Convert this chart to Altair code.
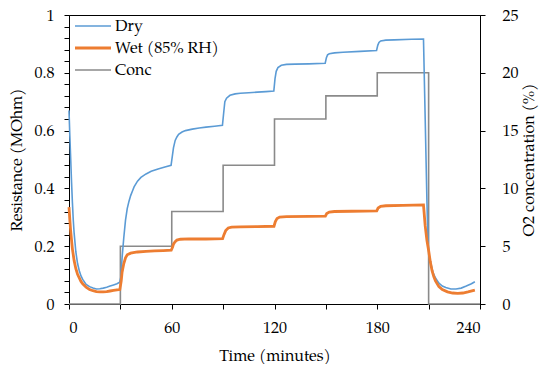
import altair as alt
import pandas as pd

# ---- data ----
dry_t = [0, 0.5, 1, 1.5, 2, 2.5, 3, 4, 5, 6, 7, 8, 10, 12, 14, 16, 18, 20, 22, 24, 26, 28, 29.6,
         30.3, 31, 32, 33, 34, 35, 36, 37, 38, 40, 42, 45, 48, 52, 56, 59.6,
         60.3, 61, 62, 63, 64, 66, 68, 72, 76, 80, 85, 89.6,
         90.3, 91, 92, 94, 97, 100, 105, 110, 115, 119.6,
         120.3, 121, 122, 124, 127, 132, 140, 149.6,
         150.3, 151, 152, 155, 160, 170, 179.6,
         180.3, 181, 182, 185, 190, 200, 207,
         208, 209, 209.7, 210.5, 211.5, 212.5, 214, 216, 218, 220, 223, 226, 229, 232, 235, 237]
dry_v = [0.67, 0.58, 0.50, 0.42, 0.35, 0.29, 0.245, 0.18, 0.14, 0.115, 0.097, 0.085, 0.068, 0.06, 0.055, 0.052, 0.053, 0.055, 0.058, 0.062, 0.066, 0.07, 0.075,
         0.094, 0.16, 0.23, 0.29, 0.33, 0.355, 0.375, 0.39, 0.405, 0.425, 0.438, 0.45, 0.459, 0.467, 0.474, 0.48,
         0.51, 0.54, 0.566, 0.578, 0.587, 0.595, 0.6, 0.605, 0.609, 0.612, 0.615, 0.618,
         0.66, 0.70, 0.712, 0.722, 0.727, 0.729, 0.731, 0.733, 0.735, 0.737,
         0.78, 0.805, 0.818, 0.826, 0.829, 0.83, 0.831, 0.833,
         0.852, 0.862, 0.866, 0.869, 0.871, 0.874, 0.877,
         0.895, 0.905, 0.91, 0.913, 0.914, 0.916, 0.917,
         0.64, 0.36, 0.2, 0.16, 0.135, 0.11, 0.09, 0.072, 0.062, 0.057, 0.052, 0.052, 0.055, 0.062, 0.07, 0.077]

wet_t = [0, 0.5, 1, 2, 3, 4, 5, 6, 7, 8, 10, 12, 14, 16, 18, 20, 22, 24, 26, 28, 29.7,
         30.5, 31, 32, 33, 34, 36, 40, 45, 50, 55, 59.7,
         60.5, 61, 62, 63, 65, 70, 80, 89.7,
         90.5, 91.5, 93, 95, 100, 110, 119.7,
         120.5, 121.5, 123, 127, 140, 149.7,
         150.5, 152, 155, 165, 179.7,
         180.5, 182, 185, 195, 207,
         208, 209, 210, 211, 212, 213, 214, 216, 218, 221, 224, 227, 230, 233, 237]
wet_v = [0.335, 0.29, 0.25, 0.19, 0.15, 0.122, 0.103, 0.09, 0.078, 0.07, 0.058, 0.05, 0.046, 0.043, 0.042, 0.042, 0.043, 0.045, 0.047, 0.049, 0.05,
         0.08, 0.11, 0.14, 0.16, 0.17, 0.176, 0.18, 0.182, 0.184, 0.185, 0.186,
         0.197, 0.207, 0.216, 0.221, 0.224, 0.225, 0.225, 0.226,
         0.24, 0.254, 0.263, 0.266, 0.267, 0.268, 0.269,
         0.285, 0.296, 0.301, 0.302, 0.303, 0.304,
         0.313, 0.318, 0.32, 0.321, 0.322,
         0.332, 0.338, 0.34, 0.341, 0.343,
         0.27, 0.22, 0.185, 0.145, 0.115, 0.095, 0.08, 0.06, 0.05, 0.042, 0.038, 0.037, 0.038, 0.042, 0.048]

conc_t = [0, 30, 60, 90, 120, 150, 180, 210, 240]
conc_v = [0, 5, 8, 12, 16, 18, 20, 0, 0]

series_names = ["Dry", "Wet (85% RH)", "Conc"]
series_colors = ["#5B9BD5", "#ED7D31", "#8A8A8A"]
dry_width = 1.6
wet_width = 2.8
conc_width = 1.6

x_ticks = [0, 30, 60, 90, 120, 150, 180, 210, 240]
left_ticks = [0, 0.04, 0.08, 0.12, 0.16, 0.2, 0.24, 0.28, 0.32, 0.36, 0.4, 0.44, 0.48, 0.52,
              0.56, 0.6, 0.64, 0.68, 0.72, 0.76, 0.8, 0.84, 0.88, 0.92, 0.96, 1.0]
right_ticks = [0, 5, 10, 15, 20, 25]

res = pd.DataFrame({
    "t": dry_t + wet_t,
    "v": dry_v + wet_v,
    "series": ["Dry"] * len(dry_t) + ["Wet (85% RH)"] * len(wet_t),
    "w": [dry_width] * len(dry_t) + [wet_width] * len(wet_t),
})
conc = pd.DataFrame({"t": conc_t, "c": conc_v, "series": ["Conc"] * len(conc_t)})

FONT = "Palatino Linotype, Book Antiqua, Palatino, P052, URW Palladio L, TeX Gyre Pagella, Liberation Serif, serif"

leg = alt.Legend(
    title=None, orient="none", legendX=16, legendY=3, padding=0,
    symbolType="M-3,0H3", symbolSize=144, labelOffset=14, rowPadding=6,
    labelFont=FONT, labelFontSize=16, labelColor="black",
    symbolStrokeWidth=alt.ExprRef(expr=f"datum.value === 'Wet (85% RH)' ? {wet_width} : {dry_width}"),
)

color = alt.Color("series:N", scale=alt.Scale(domain=series_names, range=series_colors), legend=leg)

x = alt.X("t:Q", scale=alt.Scale(domain=[0, 240], nice=False),
          axis=alt.Axis(title="Time (minutes)", values=x_ticks,
                        labelExpr="datum.value % 60 == 0 ? datum.label : ''",
                        labelPadding=10, titlePadding=12))

conc_layer = alt.Chart(conc).mark_line(interpolate="step-after", strokeWidth=conc_width).encode(
    x=x,
    y=alt.Y("c:Q", scale=alt.Scale(domain=[0, 25], nice=False),
            axis=alt.Axis(orient="right", title="O2  concentration (%)", values=right_ticks,
                          titleAngle=270, titleBaseline="top", labelPadding=17, titlePadding=2)),
    color=color,
)

res_layer = alt.Chart(res).mark_line().encode(
    x=x,
    y=alt.Y("v:Q", scale=alt.Scale(domain=[0, 1], nice=False),
            axis=alt.Axis(orient="left", title="Resistance (MOhm)", values=left_ticks,
                          labelExpr="round(datum.value * 100) % 20 == 0 ? format(datum.value, '~g') : ''",
                          labelPadding=10, titlePadding=9)),
    color=color,
    strokeWidth=alt.StrokeWidth("w:Q", scale=None),
    order=alt.Order("t:Q"),
)

chart = alt.layer(conc_layer, res_layer).resolve_scale(y="independent").properties(
    width=411, height=289,
    padding={"left": 61, "top": 7, "right": 62, "bottom": 60},
    autosize=alt.AutoSizeParams(type="none"),
).configure_axis(
    labelFont=FONT, titleFont=FONT, labelFontSize=16, titleFontSize=16,
    titleFontWeight="normal", labelColor="black", titleColor="black",
    domainColor="black", tickColor="black", grid=False, tickSize=5,
).configure_view(stroke="black", strokeWidth=1)

chart.save("out.html", embed_options={"renderer": "svg", "actions": False})
